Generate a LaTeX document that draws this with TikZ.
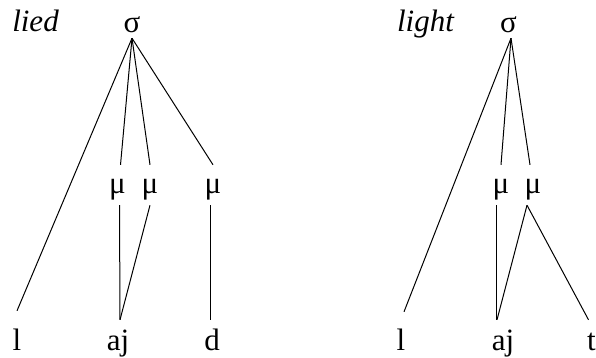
\documentclass[tikz,border=0pt]{standalone}
\usepackage{fontspec}
\setmainfont{Liberation Serif}
\newfontfamily\timesfont{Liberation Serif}
\usetikzlibrary{positioning}
\tikzset{
  seg/.style={inner sep=0pt, anchor=base, font=\timesfont\fontsize{31}{36}\selectfont},
  syl/.style={seg, text depth=5pt},
  mora/.style={seg, text height=28pt, text depth=12pt},
  root/.style={seg, text height=30pt},
  word/.style={seg, font=\timesfont\fontsize{31}{36}\selectfont\itshape},
  assoc/.style={line width=1pt},
}
\begin{document}
\begin{tikzpicture}[x=1pt, y=-1pt]
    \useasboundingbox (0,0) rectangle (596,358);
    % lied
    \node[word] (wL) at (35.5,32) {lied};
    \node[syl] (sL) at (132,33) {σ};
    \node[mora] (mL1) at (117.5,193) {μ}; \node[mora] (mL2) at (150,193) {μ}; \node[mora] (mL3) at (213,193) {μ};
    \node[root] (lL) at (17,350) {l}; \node[root] (ajL) at (118,350) {aj}; \node[root] (dL) at (212,350) {d};
    \draw[assoc] (sL.south) -- ([yshift=9pt]lL.north); \draw[assoc] (sL.south) -- ([xshift=3pt]mL1.north);
    \draw[assoc] (sL.south) -- (mL2.north); \draw[assoc] (sL.south) -- (mL3.north);
    \draw[assoc] ([xshift=2pt]mL1.south) -- ([xshift=2pt]ajL.north); \draw[assoc] (mL2.south) -- ([xshift=2pt]ajL.north);
    \draw[assoc] ([xshift=-3pt]mL3.south) -- ([xshift=-2pt]dL.north);
    % light
    \node[word] (wR) at (425.5,32) {light};
    \node[syl] (sR) at (508.5,33) {σ};
    \node[mora] (mR1) at (501,193) {μ}; \node[mora] (mR2) at (533,193) {μ};
    \node[root] (lR) at (401,350) {l}; \node[root] (ajR) at (503,350) {aj}; \node[root] (tR) at (591.5,350) {t};
    \draw[assoc] ([xshift=2.5pt]sR.south) -- ([xshift=3pt,yshift=8pt]lR.north); \draw[assoc] ([xshift=2.5pt]sR.south) -- (mR1.north);
    \draw[assoc] ([xshift=2.5pt]sR.south) -- ([xshift=-3pt]mR2.north);
    \draw[assoc] ([xshift=-5pt]mR1.south) -- ([xshift=-7pt]ajR.north);
    \draw[assoc] ([xshift=-6pt]mR2.south) -- ([xshift=-6pt]ajR.north); \draw[assoc] ([xshift=-6pt]mR2.south) -- ([xshift=-3pt]tR.north);
\end{tikzpicture}
\end{document}
